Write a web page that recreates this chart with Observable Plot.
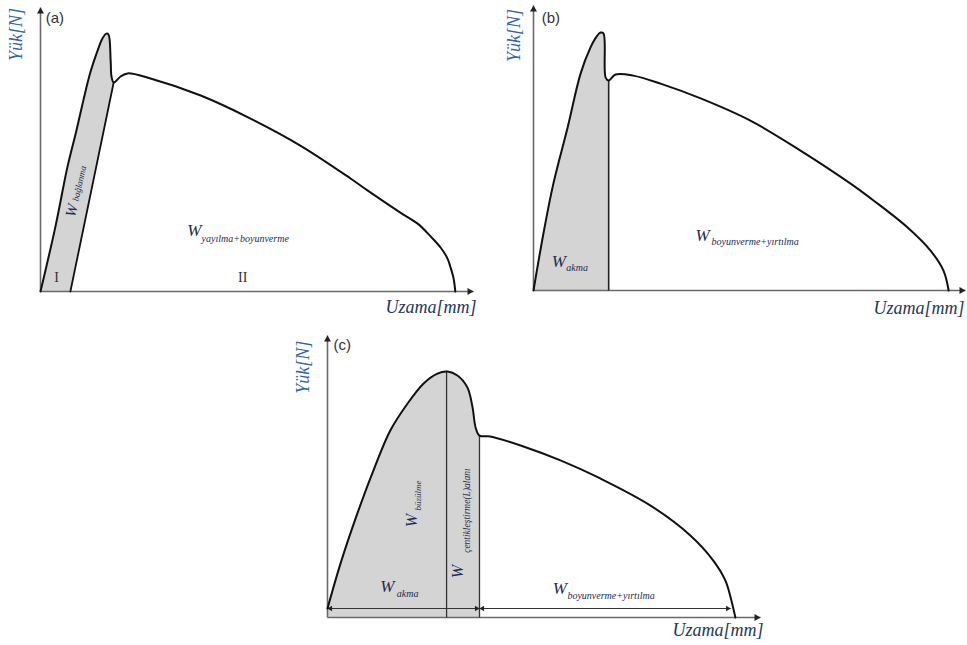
<!DOCTYPE html>
<html>
<head>
<meta charset="utf-8">
<script src="https://cdn.jsdelivr.net/npm/d3@7"></script>
<script src="https://cdn.jsdelivr.net/npm/@observablehq/plot@0.6"></script>
<style>
  body { margin: 0; background: #fff; }
  #fig { position: relative; width: 967px; height: 645px; background: #fff; overflow: hidden; }
  #fig > svg { position: absolute; }
</style>
</head>
<body>
<div id="fig"></div>
<script>
// Load–elongation curves. Elongation and load are given in % of the drawn axis length.

// (a) curve
const aElong = [0, 3.5, 6.2, 8.3, 9.9, 11.5, 13.2, 14.3, 15.2, 15.7, 16.2, 16.4, 16.9, 18.5, 20.1, 25.4, 37.0, 48.5, 60.0, 71.6, 75.5, 83.1, 87.1, 90.1, 92.4, 94.0, 94.7, 95.4, 95.8];
const aLoad  = [0, 23.2, 43.7, 56.7, 67.3, 77.1, 84.9, 89.1, 90.8, 90.5, 81.3, 75.7, 73.6, 75.7, 76.8, 75.0, 69.0, 60.9, 51.4, 39.8, 35.6, 27.8, 23.9, 19.4, 15.5, 11.6, 8.5, 4.6, 0];
// (a) elastic unloading line that bounds region I
const aUnloadElong = [16.9, 6.9];
const aUnloadLoad  = [73.6, 0];

// (b) curve
const bElong = [0, 2.3, 4.6, 7.9, 10.9, 13.2, 14.6, 15.5, 16.2, 16.7, 17.4, 19.0, 23.1, 29.4, 38.7, 50.2, 61.8, 73.4, 78.7, 86.6, 91.9, 94.9, 96.1];
const bLoad  = [0, 20.0, 37.5, 57.2, 76.1, 85.3, 89.1, 90.5, 90.2, 74.7, 73.7, 75.8, 75.4, 72.6, 67.4, 59.6, 49.1, 37.5, 31.6, 22.1, 14.0, 7.0, 0];
const bSplit = 17.4;

// (c) curve
const cElong = [0, 3.0, 6.9, 10.6, 14.5, 18.5, 22.2, 25.4, 27.7, 30.0, 32.3, 33.5, 34.2, 35.1, 37.6, 44.6, 53.8, 63.0, 74.6, 83.8, 89.1, 91.9, 93.1, 94.2];
const cLoad  = [3.2, 19.1, 36.9, 52.1, 66.3, 75.9, 83.0, 86.5, 87.2, 85.8, 81.6, 74.5, 67.4, 64.5, 64.2, 61.0, 55.7, 49.3, 39.7, 29.1, 20.2, 13.1, 7.1, 0];
const cSplits = [27.5, 35.1];       // maximum load, end of notch region
const cSplitLoads = [87.2, 64.5];
const cArrowLevel = 3.2;
const cArrowEnd = 93.1;

// text
const panelTags = ["(a)", "(b)", "(c)"];
const yLabel = "Yük[N]";
const xLabel = "Uzama[mm]";
const regionTags = ["I", "II"];

const pts = (xs, ys) => xs.map((x, i) => ({x, y: ys[i]}));

const GREY = "#d4d4d4";
const AXIS = "#6a6a6a";
const INK = "#111";
const WCOL = "#1e2c52";
const SERIF = "'Liberation Serif', 'DejaVu Serif', 'Times New Roman', serif";
const serifIt = {fontFamily: SERIF, fontStyle: "italic"};
const SMOOTH = "catmull-rom";

const txt = (x, y, text, o) => Plot.text([{x, y, text}], {x: "x", y: "y", text: "text", ...o});

function axes() {
  return [
    Plot.link([{x1: 0, y1: 0, x2: 0, y2: 100}, {x1: 0, y1: 0, x2: 100, y2: 0}],
      {x1: "x1", y1: "y1", x2: "x2", y2: "y2", stroke: AXIS, strokeWidth: 1.6}),
    Plot.dot([{x: 0, y: 100}], {x: "x", y: "y", symbol: "triangle", r: 2.6, fill: "#222", stroke: "none", dy: 4}),
    Plot.dot([{x: 100, y: 0}], {x: "x", y: "y", symbol: "triangle", r: 2.6, rotate: 90, fill: "#222", stroke: "none", dx: -4})
  ];
}

function axisTexts(tag, tagPos, yPos, xPos) {
  return [
    txt(tagPos[0], tagPos[1], tag, {textAnchor: "start", lineAnchor: "bottom", fontFamily: "'Liberation Sans', Arial, sans-serif", fontSize: 15, fill: "#333"}),
    txt(yPos[0], yPos[1], yLabel, {rotate: -90, textAnchor: "middle", lineAnchor: "middle", fontSize: 18, fill: "#2f66aa", ...serifIt}),
    txt(xPos[0], xPos[1], xLabel, {textAnchor: "start", lineAnchor: "bottom", fontSize: 18, fill: "#24365e", ...serifIt})
  ];
}

function wLabel(x, y, sx, sy, sub, o = {}) {
  return [
    txt(x, y, "W", {textAnchor: "start", lineAnchor: "bottom", fontSize: 17, fill: WCOL, ...serifIt, ...o}),
    txt(sx, sy, sub, {textAnchor: "start", lineAnchor: "bottom", fontSize: 10, fill: WCOL, ...serifIt, ...o})
  ];
}

function panel(width, height, mL, mR, mT, mB, marks) {
  return Plot.plot({
    width, height,
    marginLeft: mL, marginRight: mR, marginTop: mT, marginBottom: mB,
    x: {domain: [0, 100], axis: null},
    y: {domain: [0, 100], axis: null},
    style: {background: "#fff", overflow: "visible"},
    marks
  });
}

const fig = document.getElementById("fig");

// ---- (a) ----
const aCurve = pts(aElong, aLoad);
const aUnload = pts(aUnloadElong, aUnloadLoad);
const aEnd = aElong.indexOf(aUnloadElong[0]);
const aShade = [...aCurve.slice(0, aEnd + 1), aUnload[1]];
const plotA = panel(490, 325, 40, 17, 7, 34, [
  Plot.line(aShade, {x: "x", y: "y", fill: GREY, stroke: "none"}),
  ...axes(),
  Plot.line(aUnload, {x: "x", y: "y", stroke: INK, strokeWidth: 1.8}),
  Plot.line(aCurve, {x: "x", y: "y", stroke: INK, strokeWidth: 2, curve: SMOOTH}),
  txt(3.7, 4.9, regionTags[0], {fontFamily: SERIF, fontSize: 14, fill: "#333"}),
  txt(46.7, 4.9, regionTags[1], {fontFamily: SERIF, fontSize: 14, fill: "#333"}),
  txt(7.2, 28.5, "W", {rotate: -77, fontSize: 15, fill: WCOL, ...serifIt}),
  txt(9.0, 38.0, "bağlanma", {rotate: -77, fontSize: 9, fill: WCOL, ...serifIt}),
  ...wLabel(33.9, 19.7, 37.2, 17.6, "yayılma+boyunverme"),
  ...axisTexts(panelTags[0], [1.2, 94.7], [-5.5, 90.5], [79.7, -7.7])
]);
plotA.style.left = "0px"; plotA.style.top = "0px";
fig.appendChild(plotA);

// ---- (b) ----
const bCurve = pts(bElong, bLoad);
const bShade = bCurve.filter(d => d.x <= bSplit);
const plotB = panel(474, 325, 40, 2, 5, 35, [
  Plot.areaY(bShade, {x: "x", y: "y", fill: GREY, curve: SMOOTH}),
  ...axes(),
  Plot.link([{x: bSplit, y1: 0, y2: bLoad[bElong.indexOf(bSplit)]}], {x1: "x", x2: "x", y1: "y1", y2: "y2", stroke: "#222", strokeWidth: 1.6}),
  Plot.line(bCurve, {x: "x", y: "y", stroke: INK, strokeWidth: 2, curve: SMOOTH}),
  ...wLabel(4.2, 8.4, 7.6, 7.0, "akma"),
  ...wLabel(37.5, 17.2, 41.2, 15.8, "boyunverme+yırtılma"),
  ...axisTexts(panelTags[1], [1.9, 93.7], [-4.4, 89.5], [78.7, -8.1])
]);
plotB.style.left = "493px"; plotB.style.top = "0px";
fig.appendChild(plotB);

// ---- (c) ----
const cCurve = pts(cElong, cLoad);
const cShade = cCurve.filter(d => d.x <= cSplits[1]);
const cArrows = [
  {x1: 0, x2: cSplits[1]},
  {x1: cSplits[1], x2: cArrowEnd}
];
const heads = [
  {x: 0, r: -90, dx: 3}, {x: cSplits[1], r: 90, dx: -3},
  {x: cSplits[1], r: -90, dx: 3}, {x: cArrowEnd, r: 90, dx: -3}
];
const plotC = panel(500, 315, 47, 20, 5, 28, [
  Plot.areaY(cShade, {x: "x", y: "y", fill: GREY, curve: SMOOTH}),
  ...axes(),
  Plot.link(cSplits.map((x, i) => ({x, y2: cSplitLoads[i]})), {x1: "x", x2: "x", y1: 0, y2: "y2", stroke: "#333", strokeWidth: 1.3}),
  Plot.link(cArrows, {x1: "x1", x2: "x2", y1: cArrowLevel, y2: cArrowLevel, stroke: "#333", strokeWidth: 1.1}),
  ...heads.map(h => Plot.dot([h], {x: "x", y: () => cArrowLevel, symbol: "triangle", r: 2, rotate: h.r, dx: h.dx, fill: "#222", stroke: "none"})),
  Plot.line(cCurve, {x: "x", y: "y", stroke: INK, strokeWidth: 2, curve: SMOOTH}),
  ...wLabel(12.2, 8.9, 16.0, 7.1, "akma"),
  txt(19.4, 34.4, "W", {rotate: -90, fontSize: 16, fill: WCOL, ...serifIt}),
  txt(21.0, 43.3, "büzülme", {rotate: -90, fontSize: 9, fill: WCOL, ...serifIt}),
  txt(30.0, 16.3, "W", {rotate: -90, fontSize: 16, fill: WCOL, ...serifIt}),
  txt(32.1, 37.9, "çentikleştirme(L)alanı", {rotate: -90, fontSize: 9.5, fill: WCOL, ...serifIt}),
  ...wLabel(52.0, 8.5, 55.4, 6.7, "boyunverme+yırtılma"),
  ...axisTexts(panelTags[2], [1.4, 95.0], [-5.5, 88.7], [79.7, -6.7])
]);
plotC.style.left = "280px"; plotC.style.top = "330px";
fig.appendChild(plotC);
</script>
</body>
</html>
